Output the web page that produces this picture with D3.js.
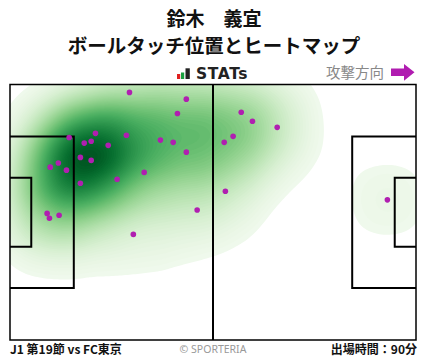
<!DOCTYPE html>
<html>
<head>
<meta charset="utf-8">
<script src="https://cdn.jsdelivr.net/npm/d3@7"></script>
<style>
  body { margin: 0; background: #fff; }
  svg { display: block; }
</style>
</head>
<body>
<div id="chart"></div>
<script>
// ball touches in pitch metres (attacking left -> right, 105 x 68)
var touchX = [30.9, 45.6, 43.3, 22.1, 15.3, 19.2, 21.0, 25.4, 30.1, 38.9, 42.2, 45.6,
              18.2, 21.0, 12.5, 10.4, 14.6, 34.7, 27.7, 18.2, 48.4, 9.6, 10.2, 12.7,
              31.9, 59.8, 62.7, 69.1, 57.7, 55.4, 55.7, 97.6];
var touchY = [2.1, 3.9, 7.7, 13.0, 14.1, 15.6, 15.1, 16.2, 13.5, 14.8, 15.4, 18.0,
              19.4, 20.2, 20.9, 22.0, 22.8, 23.4, 25.2, 26.3, 33.4, 34.3, 35.6, 34.8,
              39.9, 7.4, 9.8, 11.4, 13.8, 15.4, 28.4, 30.7];

var playerName = "鈴木　義宜";
var chartTitle = "ボールタッチ位置とヒートマップ";
var matchLabel = "J1 第19節 vs FC東京";
var minutesLabel = "出場時間：90分";

var width = 428, height = 359;
var pitchLen = 105, pitchWid = 68;

var x = d3.scaleLinear().domain([0, pitchLen]).range([10, 416]);
var y = d3.scaleLinear().domain([0, pitchWid]).range([84.5, 340]);

var svg = d3.select("#chart").append("svg")
  .attr("width", width)
  .attr("height", height);

var jp = "'Noto Sans CJK JP', 'Noto Sans', sans-serif";

// titles
svg.append("text").attr("x", width / 2).attr("y", 26)
  .attr("text-anchor", "middle").style("font-family", jp)
  .style("font-weight", "bold").style("font-size", "19px").style("fill", "#111")
  .text(playerName);
svg.append("text").attr("x", width / 2).attr("y", 53)
  .attr("text-anchor", "middle").style("font-family", jp)
  .style("font-weight", "bold").style("font-size", "19.5px").style("fill", "#111")
  .text(chartTitle);

// STATs logo
var logo = svg.append("g");
logo.append("rect").attr("x", 177).attr("y", 74).attr("width", 3.2).attr("height", 5).attr("fill", "#e02020");
logo.append("rect").attr("x", 181).attr("y", 72.5).attr("width", 3.2).attr("height", 6.5).attr("fill", "#18a040");
logo.append("rect").attr("x", 185.5).attr("y", 68.3).attr("width", 4.3).attr("height", 10.7).attr("fill", "#222");
logo.append("text").attr("x", 196).attr("y", 79)
  .style("font-family", "'DejaVu Sans', sans-serif").style("font-weight", "bold")
  .style("font-size", "15.5px").style("fill", "#222").style("letter-spacing", "0.6px")
  .text("STATs");

// attack direction
svg.append("text").attr("x", 384).attr("y", 78).attr("text-anchor", "end")
  .style("font-family", jp).style("font-size", "14.5px").style("fill", "#888")
  .text("攻撃方向");
svg.append("path")
  .attr("d", "M391,68.5 L404,68.5 L404,64 L414.5,72.3 L404,80.7 L404,76 L391,76 Z")
  .attr("fill", "#b01cb0");

// heatmap
var defs = svg.append("defs");
defs.append("clipPath").attr("id", "pitch-clip").append("rect")
  .attr("x", x(0)).attr("y", y(0))
  .attr("width", x(pitchLen) - x(0)).attr("height", y(pitchWid) - y(0));

var touches = touchX.map(function(d, i) { return [d, touchY[i]]; });

var density = d3.contourDensity()
  .x(function(d) { return x(d[0]); })
  .y(function(d) { return y(d[1]); })
  .size([width, height])
  .cellSize(2)
  .bandwidth(33)
  .thresholds(70)(touches);

var maxD = d3.max(density, function(d) { return d.value; });
var color = d3.scaleSequential(d3.interpolateGreens).domain([0, maxD * 1.05]);

svg.append("g").attr("clip-path", "url(#pitch-clip)")
  .selectAll("path")
  .data(density.filter(function(d) { return d.value > maxD * 0.05; }))
  .enter().append("path")
  .attr("d", d3.geoPath())
  .attr("fill", function(d) { return color(d.value); });

// pitch lines
var pitch = svg.append("g").attr("fill", "none").attr("stroke", "#000");
pitch.append("rect")
  .attr("x", x(0)).attr("y", y(0))
  .attr("width", x(pitchLen) - x(0)).attr("height", y(pitchWid) - y(0))
  .attr("stroke-width", 1.5);
pitch.append("line")
  .attr("x1", x(pitchLen / 2)).attr("x2", x(pitchLen / 2))
  .attr("y1", y(0)).attr("y2", y(pitchWid)).attr("stroke-width", 2);

var boxes = [[16.5, 40.32], [5.5, 18.32]];
boxes.forEach(function(b) {
  var top = y((pitchWid - b[1]) / 2), bot = y((pitchWid + b[1]) / 2);
  pitch.append("path")
    .attr("d", "M" + x(0) + "," + top + "H" + x(b[0]) + "V" + bot + "H" + x(0))
    .attr("stroke-width", 2);
  pitch.append("path")
    .attr("d", "M" + x(pitchLen) + "," + top + "H" + x(pitchLen - b[0]) + "V" + bot + "H" + x(pitchLen))
    .attr("stroke-width", 2);
});

// touch points
svg.append("g").selectAll("circle")
  .data(touches)
  .enter().append("circle")
  .attr("cx", function(d) { return x(d[0]); })
  .attr("cy", function(d) { return y(d[1]); })
  .attr("r", 2.8)
  .attr("fill", "#b01fb0");

// footer
svg.append("text").attr("x", 10).attr("y", 354)
  .style("font-family", jp).style("font-weight", "bold").style("font-size", "12px")
  .style("fill", "#111").text(matchLabel);
svg.append("text").attr("x", 213).attr("y", 353).attr("text-anchor", "middle")
  .style("font-family", "'Noto Sans', sans-serif").style("font-size", "10.5px")
  .style("fill", "#999").text("© SPORTERIA");
svg.append("text").attr("x", 417).attr("y", 354).attr("text-anchor", "end")
  .style("font-family", jp).style("font-weight", "bold").style("font-size", "12px")
  .style("fill", "#111").text(minutesLabel);
</script>
</body>
</html>
